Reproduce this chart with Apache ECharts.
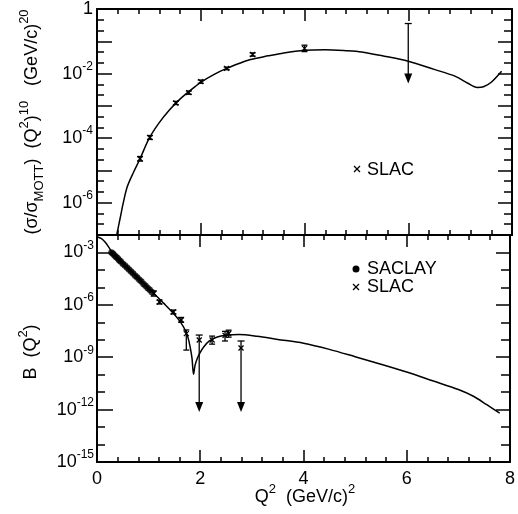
<!DOCTYPE html>
<html><head><meta charset="utf-8">
<script src="https://cdn.jsdelivr.net/npm/echarts@6/dist/echarts.min.js"></script>
<style>html,body{margin:0;padding:0;background:#fff}#c{width:518px;height:514px}</style>
</head><body><div id="c"></div>
<script>
// ---- Top panel: (σ/σMOTT)(Q²)^10, values as log10 ----
const topCurveQ2  = [0.38,0.45,0.5,0.58,0.7,0.83,1.0,1.2,1.4,1.6,1.8,2.0,2.25,2.5,2.75,2.94,3.3,3.6,4.0,4.4,4.8,5.1,5.5,6.0,6.5,6.9,7.15,7.33,7.45,7.6,7.8];
const topCurveLog = [-7.0,-6.45,-6.05,-5.52,-5.07,-4.64,-4.02,-3.52,-3.12,-2.79,-2.52,-2.27,-2.03,-1.84,-1.68,-1.57,-1.45,-1.36,-1.28,-1.26,-1.29,-1.33,-1.45,-1.62,-1.87,-2.08,-2.3,-2.43,-2.41,-2.27,-1.93];
const topSlacQ2  = [0.83,1.02,1.52,1.77,2.0,2.5,3.0,4.0];
const topSlacLog = [-4.64,-3.98,-2.91,-2.59,-2.25,-1.84,-1.41,-1.22];
const topSlacErr = [0.07,0.06,0.05,0.05,0.05,0.04,0.05,0.1];
const topLimitQ2  = [6.0];
const topLimitCap = [-0.45];
const topLimitTip = [-2.31];

// ---- Bottom panel: B(Q²), values as log10 ----
const botCurveQ2  = [0,0.08,0.16,0.24,0.3,0.5,0.7,0.9,1.1,1.3,1.5,1.62,1.7,1.76,1.8,1.84,1.87,1.9,1.95,2.0,2.07,2.17,2.33,2.5,2.75,3.1,3.5,4.0,4.5,5.0,5.5,6.0,6.5,7.0,7.3,7.55,7.8];
const botCurveLog = [-2.1,-2.2,-2.42,-2.75,-3.02,-3.6,-4.18,-4.76,-5.34,-5.93,-6.55,-7.0,-7.4,-7.85,-8.35,-9.05,-9.98,-9.45,-9.02,-8.72,-8.4,-8.08,-7.84,-7.74,-7.7,-7.8,-7.98,-8.2,-8.55,-8.97,-9.4,-9.85,-10.35,-10.85,-11.25,-11.72,-12.2];
const saclayQ2  = [0.28,0.31,0.34,0.37,0.40,0.43,0.46,0.50,0.54,0.58,0.62,0.66,0.70,0.74,0.78,0.82,0.86,0.90,0.94,0.98,1.02,1.06];
const saclayLog = [-3.00,-3.08,-3.17,-3.26,-3.33,-3.44,-3.52,-3.64,-3.74,-3.86,-3.98,-4.09,-4.21,-4.33,-4.44,-4.56,-4.67,-4.80,-4.91,-5.03,-5.14,-5.26];
const botSlacQ2  = [1.1,1.21,1.48,1.63,1.73,2.23,2.48,2.55];
const botSlacLog = [-5.35,-5.84,-6.41,-6.87,-7.65,-8.01,-7.75,-7.64];
const botSlacLo  = [-5.5,-5.95,-6.52,-7.0,-8.59,-8.25,-8.07,-7.85];
const botSlacHi  = [-5.2,-5.73,-6.3,-6.72,-7.44,-7.79,-7.52,-7.45];
const botLimitQ2  = [1.98,2.79];
const botLimitCap = [-7.73,-8.07];
const botLimitMark= [-8.01,-8.47];
const botLimitTip = [-12.14,-12.14];

const FONT = 'Liberation Sans';
const ST = {stroke:'#000', lineWidth:1.3};

function errRender(params, api){
  const x=api.value(0), y=api.value(1), lo=api.value(2), hi=api.value(3);
  const c=api.coord([x,y]), cl=api.coord([x,lo]), ch=api.coord([x,hi]);
  const w=3, m=2.5;
  return {type:'group', children:[
    {type:'line', shape:{x1:c[0],y1:cl[1],x2:c[0],y2:ch[1]}, style:ST},
    {type:'line', shape:{x1:c[0]-w,y1:cl[1],x2:c[0]+w,y2:cl[1]}, style:ST},
    {type:'line', shape:{x1:c[0]-w,y1:ch[1],x2:c[0]+w,y2:ch[1]}, style:ST},
    {type:'line', shape:{x1:c[0]-m,y1:c[1]-m,x2:c[0]+m,y2:c[1]+m}, style:ST},
    {type:'line', shape:{x1:c[0]-m,y1:c[1]+m,x2:c[0]+m,y2:c[1]-m}, style:ST}
  ]};
}
function limRender(params, api){
  const x=api.value(0), cap=api.value(1), tip=api.value(2), mk=api.value(3);
  const cc=api.coord([x,cap]), ct=api.coord([x,tip]);
  const w=3.5, m=2.5;
  const ch=[
    {type:'line', shape:{x1:cc[0],y1:cc[1],x2:ct[0],y2:ct[1]-8}, style:ST},
    {type:'line', shape:{x1:cc[0]-w,y1:cc[1],x2:cc[0]+w,y2:cc[1]}, style:ST},
    {type:'polygon', shape:{points:[[ct[0]-4,ct[1]-10],[ct[0]+4,ct[1]-10],[ct[0],ct[1]]]}, style:{fill:'#000'}}
  ];
  if (mk !== null && !isNaN(mk)) {
    const cm=api.coord([x,mk]);
    ch.push({type:'line', shape:{x1:cm[0]-m,y1:cm[1]-m,x2:cm[0]+m,y2:cm[1]+m}, style:ST});
    ch.push({type:'line', shape:{x1:cm[0]-m,y1:cm[1]+m,x2:cm[0]+m,y2:cm[1]-m}, style:ST});
  }
  return {type:'group', children:ch};
}

const supRich = {
  b:{fontSize:18, fontFamily:FONT, color:'#000', lineHeight:26},
  s:{fontSize:12, fontFamily:FONT, color:'#000', verticalAlign:'top', lineHeight:12},
  one:{fontSize:18, fontFamily:FONT, color:'#000', lineHeight:26}
};
const titleRich = {
  sub:{fontSize:13, fontFamily:FONT, verticalAlign:'bottom', lineHeight:13},
  sup:{fontSize:13, fontFamily:FONT, verticalAlign:'top', lineHeight:13}
};

function xAx(grid, pos, labels){
  return {type:'value', gridIndex:grid, position:pos, min:0, max:8, interval:2,
    axisLine:{onZero:false, lineStyle:{color:'#000', width:2}},
    axisTick:{inside:true, length:12, lineStyle:{color:'#000', width:1.5}},
    minorTick:{show:true, splitNumber:5, length:5, lineStyle:{color:'#000', width:1.5}},
    splitLine:{show:false},
    axisLabel:{show:labels, margin:8, fontSize:18, fontFamily:FONT, color:'#000'}};
}
function yAx(grid, pos, min, max, interval, len, opts){
  return Object.assign({type:'value', gridIndex:grid, position:pos, min:min, max:max, interval:interval,
    axisLine:{onZero:false, lineStyle:{color:'#000', width:2}},
    axisTick:{inside:true, length:len, lineStyle:{color:'#000', width:1.5}},
    splitLine:{show:false},
    axisLabel:{show:false}}, opts||{});
}

const option = {
  animation:false,
  backgroundColor:'#fff',
  grid:[
    {left:97, top:8, width:415, height:227},
    {left:97, top:235, width:415, height:227}
  ],
  xAxis:[ xAx(0,'bottom',false), xAx(0,'top',false), xAx(1,'bottom',true), xAx(1,'top',false) ],
  yAxis:[
    yAx(0,'left',-7,0,1,15,{
      minorTick:{show:true, splitNumber:3, length:7, lineStyle:{color:'#000', width:1.5}},
      axisLabel:{show:true, margin:4, rich:supRich,
        formatter:v=> v===0 ? '{one|1}' : (v%2===0 ? '{b|10}{s|'+v+'}' : '')}}),
    yAx(0,'right',-7,0,1,14,{
      minorTick:{show:true, splitNumber:3, length:8, lineStyle:{color:'#000', width:1.5}}}),
    yAx(1,'left',-15,-2,3,16,{
      axisLabel:{show:true, margin:3, rich:supRich,
        formatter:v=> (v%3===0 && v<=-3) ? '{b|10}{s|'+v+'}' : ''}}),
    yAx(1,'left',-15,-2,1,8,{axisLine:{show:false, onZero:false}}),
    yAx(1,'right',-15,-2,3,14,{}),
    yAx(1,'right',-15,-2,1,9,{axisLine:{show:false, onZero:false}})
  ],
  series:[
    {type:'line', xAxisIndex:0, yAxisIndex:0, data:topCurveQ2.map((q,i)=>[q,topCurveLog[i]]),
      showSymbol:false, smooth:0.3, lineStyle:{color:'#000', width:1.5}, silent:true},
    {type:'custom', xAxisIndex:0, yAxisIndex:0, renderItem:errRender,
      data:topSlacQ2.map((q,i)=>[q,topSlacLog[i],topSlacLog[i]-topSlacErr[i],topSlacLog[i]+topSlacErr[i]])},
    {type:'custom', xAxisIndex:0, yAxisIndex:0, renderItem:limRender,
      data:topLimitQ2.map((q,i)=>[q,topLimitCap[i],topLimitTip[i],NaN])},
    {type:'line', xAxisIndex:2, yAxisIndex:2, data:botCurveQ2.map((q,i)=>[q,botCurveLog[i]]),
      showSymbol:false, smooth:0.3, lineStyle:{color:'#000', width:1.5}, silent:true},
    {type:'scatter', xAxisIndex:2, yAxisIndex:2, symbol:'circle', symbolSize:6.5,
      itemStyle:{color:'#000'}, data:saclayQ2.map((q,i)=>[q,saclayLog[i]])},
    {type:'custom', xAxisIndex:2, yAxisIndex:2, renderItem:errRender,
      data:botSlacQ2.map((q,i)=>[q,botSlacLog[i],botSlacLo[i],botSlacHi[i]])},
    {type:'custom', xAxisIndex:2, yAxisIndex:2, renderItem:limRender,
      data:botLimitQ2.map((q,i)=>[q,botLimitCap[i],botLimitTip[i],botLimitMark[i]])}
  ],
  graphic:[
    {type:'text', x:32, y:122, rotation:Math.PI/2, style:{
      text:'(σ/σ{sub|MOTT})  (Q{sup|2}){sup|10}   (GeV/c){sup|20}',
      fontSize:18, fontFamily:FONT, fill:'#000', align:'center', verticalAlign:'middle',
      lineHeight:28, rich:titleRich}},
    {type:'text', x:31, y:352, rotation:Math.PI/2, style:{
      text:'B  (Q{sup|2})', fontSize:18, fontFamily:FONT, fill:'#000', align:'center', verticalAlign:'middle',
      lineHeight:28, rich:titleRich}},
    {type:'text', x:305, y:497, style:{
      text:'Q{sup|2}  (GeV/c){sup|2}', fontSize:18, fontFamily:FONT, fill:'#000', align:'center', verticalAlign:'middle',
      lineHeight:28, rich:titleRich}},
    // legends
    {type:'line', shape:{x1:354,y1:166,x2:360,y2:172}, style:ST},
    {type:'line', shape:{x1:354,y1:172,x2:360,y2:166}, style:ST},
    {type:'text', x:367, y:170, style:{text:'SLAC', fontSize:18, fontFamily:FONT, fill:'#000', verticalAlign:'middle'}},
    {type:'circle', shape:{cx:356, cy:269, r:3.5}, style:{fill:'#000'}},
    {type:'text', x:367, y:269, style:{text:'SACLAY', fontSize:18, fontFamily:FONT, fill:'#000', verticalAlign:'middle'}},
    {type:'line', shape:{x1:353,y1:284,x2:359,y2:290}, style:ST},
    {type:'line', shape:{x1:353,y1:290,x2:359,y2:284}, style:ST},
    {type:'text', x:367, y:287, style:{text:'SLAC', fontSize:18, fontFamily:FONT, fill:'#000', verticalAlign:'middle'}}
  ]
};
const chart = echarts.init(document.getElementById('c'), null, {renderer:'canvas'});
chart.setOption(option);
</script></body></html>
